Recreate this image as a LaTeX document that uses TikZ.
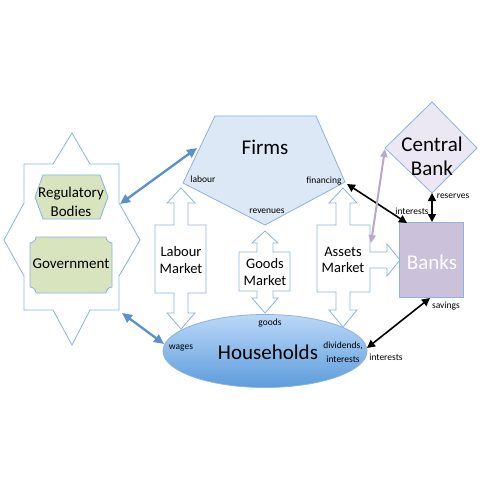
\documentclass[tikz,border=0pt]{standalone}
\usepackage{fontspec}
\setmainfont{Carlito}
\usetikzlibrary{arrows.meta,shapes.geometric}
\definecolor{oblue}{HTML}{8DB3E2}
\definecolor{firmfill}{HTML}{DCE8F5}
\definecolor{regfill}{HTML}{D7E4BD}
\definecolor{bankfill}{HTML}{CCC1DA}
\definecolor{cbfill}{HTML}{ECE8F3}
\definecolor{arrblue}{HTML}{5A90D0}
\definecolor{lav}{HTML}{B8A8CC}
\definecolor{hhtop}{HTML}{BBD8F8}
\definecolor{hhbot}{HTML}{5C9CDC}
\begin{document}
\begin{tikzpicture}[x=1pt,y=-1pt,
  outl/.style={draw=oblue, line width=0.8pt, line join=miter},
  big/.style={inner sep=0pt, font=\fontsize{21}{24}\selectfont, align=center},
  mid/.style={inner sep=0pt, font=\fontsize{14.5}{16.5}\selectfont, align=center},
  reg/.style={inner sep=0pt, font=\fontsize{15}{18.5}\selectfont, align=center},
  small/.style={inner sep=0pt, font=\fontsize{9.5}{14}\selectfont, align=center},
  bluearrow/.style={draw=arrblue, line width=2.3pt, {Triangle[length=10pt,width=9pt]}-{Triangle[length=10pt,width=9pt]}},
  blackarrow/.style={draw=black, line width=1.6pt, {Triangle[length=8pt,width=8pt]}-{Triangle[length=8pt,width=8pt]}},
  lavarrow/.style={draw=lav, line width=2pt, {Triangle[length=8pt,width=7pt]}-{Triangle[length=8pt,width=7pt]}}
]
\useasboundingbox[fill=white] (0,0) rectangle (486,486);

% star
\draw[outl, fill=white] (72,133) -- (90,164) -- (119,164) -- (119,203) -- (140,240) -- (119,276) -- (119,310)
  -- (90,310) -- (72,345) -- (53,310) -- (24,310) -- (24,276) -- (4,240) -- (24,203) -- (24,164) -- (53,164) -- cycle;
% regulatory bodies hexagon
\draw[outl, fill=regfill] (35,197) -- (43,175) -- (100,175) -- (108,197) -- (100,219) -- (43,219) -- cycle;
\node[reg] (regb) at (71,202) {Regulatory\\Bodies};
% government plaque
\draw[outl, fill=regfill] (36,237) -- (106,237) .. controls (106,240) and (109,243) .. (112,243)
  -- (112,287) .. controls (109,287) and (106,290) .. (106,293) -- (36,293)
  .. controls (36,290) and (33,287) .. (30,287) -- (30,243) .. controls (33,243) and (36,240) .. (36,237) -- cycle;
\node[reg] (gov) at (71,264) {Government};

% firms pentagon
\draw[outl, fill=firmfill] (215,116) -- (316,116) -- (345,182) -- (265,225) -- (183,183) -- cycle;
\node[big] (firms) at (265,147) {Firms};
\node[small] (lab) at (203,179) {labour};
\node[small] (fin) at (324,181) {financing};
\node[small] (rev) at (267,211) {revenues};

% labour market
\draw[outl, fill=white] (181,188) -- (195,203) -- (188,203) -- (188,225) -- (206,225) -- (206,293) -- (188,293)
  -- (188,313) -- (195,313) -- (181,329) -- (167,313) -- (174,313) -- (174,293) -- (155,293) -- (155,225)
  -- (174,225) -- (174,203) -- (167,203) -- cycle;
\node[mid] (labm) at (181,260) {Labour\\Market};
% goods market
\draw[outl, fill=white] (265,231) -- (278,243) -- (273,243) -- (273,252) -- (290,252) -- (290,291) -- (273,291)
  -- (273,298) -- (278,298) -- (265,313) -- (252,298) -- (257,298) -- (257,291) -- (239,291) -- (239,252)
  -- (257,252) -- (257,243) -- (252,243) -- cycle;
\node[mid] (goodm) at (265,272) {Goods\\Market};
% assets market
\draw[outl, fill=white] (343,188) -- (357,203) -- (350,203) -- (350,225) -- (370,225) -- (370,252) -- (387,252)
  -- (387,244) -- (400,260) -- (387,276) -- (387,268) -- (370,268) -- (370,292) -- (350,292) -- (350,310)
  -- (357,310) -- (343,327) -- (329,310) -- (336,310) -- (336,292) -- (317,292) -- (317,225) -- (336,225)
  -- (336,203) -- (329,203) -- cycle;
\node[mid] (assm) at (343,260) {Assets\\Market};

% banks
\node[outl, fill=bankfill, minimum width=64pt, minimum height=75pt, inner sep=0pt] (banks) at (431,259.5) {};
\node[big, text=white] (bankst) at (432,262) {Banks};
% central bank
\draw[outl, fill=cbfill] (432,102) -- (477,148) -- (432,193) -- (385,148) -- cycle;
\node[big] (cb) at (432,156) {Central\\Bank};

% households
\node[draw=oblue, line width=0.8pt, ellipse, minimum width=204pt, minimum height=73pt, inner sep=0pt,
  top color=hhtop, bottom color=hhbot] (hh) at (265,351) {};
\node[big] (hht) at (268,352) {Households};
\node[small] (goods) at (270,323) {goods};
\node[small] (wages) at (181,348) {wages};
\node[small] (divi) at (343,352) {dividends,\\interests};

% labels
\node[small] (intA) at (412,211) {interests};
\node[small] (resv) at (453,196) {reserves};
\node[small] (sav) at (446,306) {savings};
\node[small] (intB) at (386,357) {interests};

% connector end points
\coordinate (starR) at (120,204);
\coordinate (firmL) at (197,148);
\coordinate (starB) at (122,313);
\coordinate (hhL) at (164,344);
\coordinate (finP) at (347,184);
\coordinate (bankTL) at (407,223);
\coordinate (cbB) at (432,193);
\coordinate (bankT) at (432,222);
\coordinate (bankB) at (430,298);
\coordinate (hhR) at (367,348);
\coordinate (cbL) at (385,149);
\coordinate (assR) at (371,243);

\draw[bluearrow] (starR) -- (firmL);
\draw[bluearrow] (starB) -- (hhL);
\draw[blackarrow] (finP) -- (bankTL);
\draw[blackarrow] (cbB) -- (bankT);
\draw[blackarrow] (bankB) -- (hhR);
\draw[lavarrow] (cbL) -- (assR);
\end{tikzpicture}
\end{document}
